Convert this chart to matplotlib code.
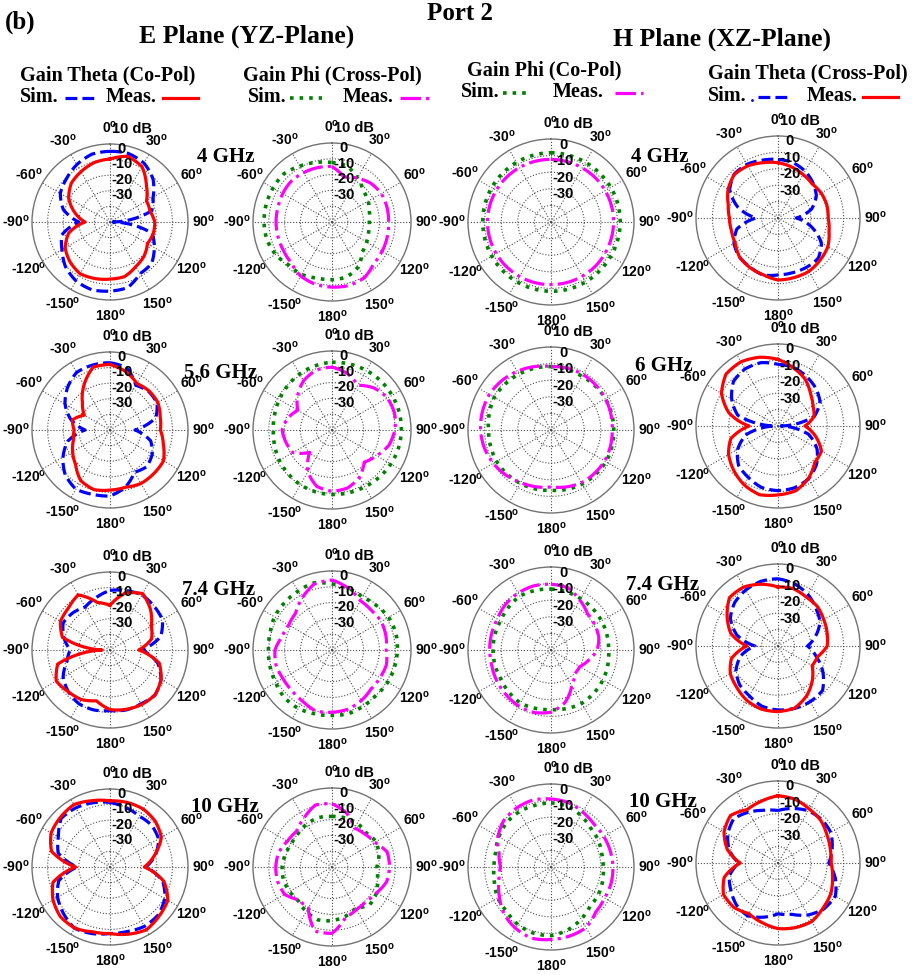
import numpy as np
import matplotlib

matplotlib.use("AGG")
from matplotlib import pyplot
from matplotlib.lines import Line2D

# pattern angles (deg, clockwise from boresight), values in dB
angles = np.arange(0, 360, 15)

# E plane (YZ) - gain theta co-pol / gain phi cross-pol
e_co_sim_4 = [5.3, 5.5, 3.6, -1.0, -8.1, -12.3, -38, -12, -7.2, -2.3, -1.7, 3.6, 4.3, 5.0, 3.6, 0.4, -4.5, -8, -20, -9, -3.2, -0.6, 2.5, 5.0]
e_co_meas_4 = [0.4, 3.6, 1.0, -7, -13, -13.4, -11.3, -11.3, -12.3, -9.1, -7, -3.8, -3.4, -2.5, -1.7, -3.8, -6.8, -12.6, -24, -16.6, -9.4, -4.9, -2.8, -0.6]
e_x_sim_4 = [-2.4, -3.3, -7.8, -12, -13.6, -15.5, -16.4, -16, -14.7, -13, -7, -4, -3.5, -3.3, -1.6, -1.4, 1.2, 2.7, 3, 3.1, 3.1, 3.1, 0.8, -1]
e_x_meas_4 = [-4.9, -10.6, -8, -5.3, -4, -4, -4.2, -3.8, -3.3, -2.7, 0.8, 1.6, 1.2, 0.8, -0.5, -3.5, -4.4, -4.6, -4.6, -4.6, -4, -3.5, -4, -4.4]

e_co_sim_56 = [3.1, 1.3, -6.9, -5, -5.2, -9.6, -24, -13, -8.75, -6.7, -8.75, -2, 2.3, 2.7, 3.8, 0.6, -5.2, -11.9, -24, -14, -6.7, -1.5, 2.7, 3.1]
e_co_meas_56 = [2, -1.2, -5.6, -4.6, -4.6, -6.7, -7.7, -4.6, -0.4, -0.4, -0.4, -2, -1.5, -0.4, -2.5, -8.8, -12.3, -15.8, -17, -15, -21, -15, -6.7, 1.7]
e_x_sim_56 = [2.9, 3.2, 3.5, 3.8, 3.9, 4.0, 3.9, 3.6, 3.0, 2.3, 1.5, 1.1, 0.8, 0.5, 0.0, -0.8, -1.5, -2.4, -2.9, -2.4, -1.5, -0.3, 1.0, 2.0]
e_x_meas_56 = [-0.2, -2.9, -7.3, -2.4, 0.6, 1, -0.2, -2.7, -7.5, -11.2, -5.3, -2, -1.2, -3, -9.4, -20, -11.4, -9.8, -8.4, -11, -15, -9.2, -4, -0.8]

e_co_sim_74 = [-1.8, -0.6, 0.8, -0.2, -1.2, -6.3, -19.6, -8.4, -2.2, 0.8, -0.2, -0.2, -1.2, -0.2, -0.2, -2.2, -5.3, -11.4, -14.5, -9.4, -5.3, -6.3, -8.2, -5.3]
e_co_meas_74 = [-11.4, -2.2, 1.8, -3.3, -9.4, -12.4, -21.6, -7.3, -2.2, 0.8, 0.4, -0.6, -1.8, -6.3, -3.3, -2.2, -0.2, -5.3, -35, -8.4, -3.3, -2.2, 0.8, -8.4]
e_x_sim_74 = [1.8, 0.4, -1.4, -0.2, 1.4, 1.8, 1.4, 1.0, 0.8, 0.0, 0.6, 1.6, 1.4, 1.8, 2.7, 2.6, 1.2, 0.6, 0.2, 0.6, 2.0, 2.4, 3.0, 4.0]
e_x_meas_74 = [4.3, 0.4, -4, -4.7, -4, -4.7, -5.7, -4.3, -4.9, -5.1, -3, -1.2, -0.6, 0, -2.7, -3.9, -4.1, -3.3, -3.9, -7.3, -8.4, -7.3, -2.2, 3.3]

e_co_sim_10 = [1.4, -0.6, -2.4, -2.2, -4, -9.8, -17, -5, 0.6, 3.6, 4, 2.8, 2.6, 4.2, 5.4, 2.2, -1.2, -6, -19, -5.6, -1.8, 4.2, 3.8, 2.6]
e_co_meas_10 = [2.4, 2.8, 2.8, 1.2, -2, -10.4, -18, -4.2, 2.8, 4.5, 6.5, 4.6, 2.6, 3, 5.2, 5, 2.2, -2.2, -18, -1.2, 3.6, 5, 6.2, 4]
e_x_sim_10 = [-8, -7.8, -8, -9.4, -7.8, -9.2, -11.6, -10.2, -7.4, -6.2, -10, -7.6, -6, -5.4, -7.4, -9.8, -9, -8.2, -8.4, -9.4, -10.4, -9.8, -8.4, -7.6]
e_x_meas_10 = [0, -4.6, -11.6, -10.6, -8.8, -3.8, -3.6, -4.2, -7.4, -9.4, -9, -7, 2, 2, -10, -10.6, -5.4, -4.4, -4.4, -5, -7.4, -8.2, -4.4, 0.6]

# H plane (XZ) - gain phi co-pol / gain theta cross-pol
h_co_sim_4 = [1.7, 1.6, 1.5, 1.5, 1.6, 1.7, 1.7, 1.6, 1.5, 1.5, 1.7, 1.8, 1.7, 1.6, 1.5, 1.3, 1.2, 1.1, 1.1, 1.2, 1.3, 1.4, 1.5, 1.6]
h_co_meas_4 = [-2.3, -2.4, -2.4, -2.3, -2.3, -2.3, -2.3, -2.4, -2.4, -2.3, -2.3, -2.3, -2.3, -2.2, -2.1, -2.0, -1.9, -1.8, -1.7, -1.8, -1.9, -2.0, -2.1, -2.2]
h_x_sim_4 = [-4.3, -5, -7, -9.8, -13, -18.8, -28.8, -18.8, -9.4, -5.3, -5.3, -5.5, -5.3, -4, -5.7, -6.5, -9, -14, -26.7, -14.7, -5.9, -2.2, -2.2, -3.5]
h_x_meas_4 = [-6.3, -7.8, -9.4, -10.6, -9.6, -9.2, -9.4, -7.8, -4.9, -3.7, -2.4, -2.4, -2.2, -4.3, -5.3, -6.7, -9.8, -10.6, -10.4, -8.6, -4.9, -2.4, -3.3, -5.1]

h_co_sim_6 = [-1.8, -2.2, -2.7, -2.4, -2.2, -2.2, -2.2, -2.0, -1.8, -2.1, -2.4, -3.0, -3.7, -3.3, -2.9, -2.5, -2.2, -2.3, -2.4, -1.5, -0.6, -0.9, -1.2, -1.5]
h_co_meas_6 = [-1.8, -1.5, -1.4, -1.8, -2.2, -2.7, -3.1, -2.9, -2.7, -3.0, -3.3, -4.5, -5.7, -4.6, -3.5, -1.6, 0.2, 1.6, 2.5, 2.8, 2.9, 2.0, 0.8, -0.5]
h_x_sim_6 = [-2.4, -3, -5.2, -7.4, -10.4, -17, -38, -20.8, -12.6, -6.8, -2.8, -1, -0.6, -1.2, -3.8, -6, -11.6, -20, -38, -14.6, -7.4, -1.6, 0.2, 0]
h_x_meas_6 = [0.6, -3.4, -7, -12, -15.4, -17.2, -23.6, -16.4, -9.4, -8.4, -3, 1, 2, 3.4, 1.4, -1.8, -5.2, -10.2, -22.4, -9, -0.2, 4.8, 5.2, 3.4]

h_co_sim_74 = [-3.3, -3.8, -4.3, -4.6, -4.9, -5.1, -5.3, -4.6, -3.9, -3.4, -2.9, -3.5, -4.1, -3.6, -3.1, -4.1, -5.1, -5.1, -5.1, -5.0, -4.9, -3.7, -2.5, -2.9]
h_co_meas_74 = [-0.4, -1.2, -5.3, -9, -9.6, -10.2, -12.2, -16.5, -20, -19.8, -15, -7.3, -2.5, -1, -1, -1.8, -2.4, -3.1, -3.1, -2.9, -2.7, -1.2, -0.4, 0]
h_x_sim_74 = [1, -0.8, -3.6, -7.4, -10.4, -16.2, -22, -16, -8.4, -1.6, -0.8, -0.6, -1, -2, -5, -6.8, -10.4, -16.4, -26, -14, -6.4, -2.6, -0.6, 0.8]
h_x_meas_74 = [-4, -3.8, -5.6, -6, -7.8, -9, -10, -15, -16, -10.4, -5, -0.8, 0, -0.2, -1.8, -4.4, -6.4, -10.6, -21, -10.2, -4.2, 1.8, 1.6, -1]

h_co_sim_10 = [-1.4, -2, -4.1, -6.5, -7.3, -8.4, -8.6, -7.8, -7, -6.7, -3.7, -0.8, 1.4, 1.2, 0, -2.2, -2.9, -4.7, -5.7, -5.5, -3.7, -2.2, -1.6, -1.6]
h_co_meas_10 = [1, 0.2, -1.8, -3.5, -3.3, -3, -2.7, -2.5, -2.7, -1.8, 2.2, 3.1, 3.7, 4.5, 2.7, 0, -4.1, -7.5, -9.6, -7.6, -3.1, 0, 1.2, 1.8]
h_x_sim_10 = [-8, -5.6, -3.2, -2.4, -2.8, -5.8, -9, -3.8, 0.4, -0.4, -3.4, -7.6, -9, -5.8, -2.8, -4, -6.8, -9.2, -16, -9.2, -4.6, -1.8, -4.2, -6.8]
h_x_meas_10 = [1, 0.2, -2, -3.2, -5.6, -7, -7.6, -5.6, -2.8, -1.2, 1.2, 0.8, 0, -2.4, -4.4, -1.8, -1.6, -6, -17, -8, -2, 1, -2.4, -1]

e_freqs = ["4 GHz", "5.6 GHz", "7.4 GHz", "10 GHz"]
h_freqs = ["4 GHz", "6 GHz", "7.4 GHz", "10 GHz"]
theta_labels = ["0", "30", "60", "90", "120", "150", "180", "-150", "-120", "-90", "-60", "-30"]
r_labels = ["-30", "-20", "-10", "0"]

BLUE, RED, GREEN, PINK = "#0000ff", "#ff0000", "#008000", "#ff00ff"
styles = {
    "co_sim": dict(color=BLUE, linestyle="--", linewidth=2.3),
    "co_meas": dict(color=RED, linestyle="-", linewidth=2.3),
    "x_sim": dict(color=GREEN, linestyle=":", linewidth=2.6),
    "x_meas": dict(color=PINK, linestyle="-.", linewidth=2.3),
}

# columns: E co, E cross, H co, H cross
grid = [
    [(e_co_sim_4, e_co_meas_4, "co"), (e_x_sim_4, e_x_meas_4, "x"), (h_co_sim_4, h_co_meas_4, "x"), (h_x_sim_4, h_x_meas_4, "co")],
    [(e_co_sim_56, e_co_meas_56, "co"), (e_x_sim_56, e_x_meas_56, "x"), (h_co_sim_6, h_co_meas_6, "x"), (h_x_sim_6, h_x_meas_6, "co")],
    [(e_co_sim_74, e_co_meas_74, "co"), (e_x_sim_74, e_x_meas_74, "x"), (h_co_sim_74, h_co_meas_74, "x"), (h_x_sim_74, h_x_meas_74, "co")],
    [(e_co_sim_10, e_co_meas_10, "co"), (e_x_sim_10, e_x_meas_10, "x"), (h_co_sim_10, h_co_meas_10, "x"), (h_x_sim_10, h_x_meas_10, "co")],
]

W, H = 917, 975
col_x = [110, 332, 551, 778]
col_dy = [0, 0, 0, -4]
col_r = [78, 79, 83, 82]
row_y = [222, 430, 650, 867]

pyplot.rcParams["mathtext.fontset"] = "custom"
pyplot.rcParams["mathtext.rm"] = "Liberation Sans:bold"
SANS = "Liberation Sans"
SERIF = "Liberation Serif"


def px(x, y):
    return x / W, 1 - y / H


def polar_panel(fig, cx, cy, R, sim, meas, kind):
    ax = fig.add_axes([(cx - R) / W, 1 - (cy + R) / H, 2 * R / W, 2 * R / H],
                      projection="polar")
    ax.set_theta_zero_location("N")
    ax.set_theta_direction(-1)
    ax.set_ylim(-40, 10)
    ax.set_rgrids([-30, -20, -10, 0], labels=[""] * 4)
    ax.set_thetagrids(np.arange(0, 360, 30),
                      labels=[t + r"$^{\mathrm{o}}$" for t in theta_labels],
                      fontsize=10, fontweight="bold", family=SANS)
    ax.tick_params(axis="x", pad=1)
    ax.grid(True, color="0.3", linestyle=":", linewidth=0.8)
    ax.spines["polar"].set_color("0.45")
    ax.spines["polar"].set_linewidth(1.0)

    th = np.deg2rad(np.append(angles, 360))
    for vals, key in ((sim, kind + "_sim"), (meas, kind + "_meas")):
        line, = ax.plot(th, np.append(vals, vals[0]), **styles[key])
        # follow the polar grid between samples instead of straight chords
        line.get_path()._interpolation_steps = 12

    # radial labels sit just above each ring, right of the 0 deg line
    for v, lab in zip([-30, -20, -10, 0], r_labels):
        y = 0.5 + 0.5 * (v + 40) / 50 + 11 / (2 * R)
        ax.text(0.5 + 12 / (2 * R), y, lab, transform=ax.transAxes,
                ha="center", va="center", fontsize=10.5, fontweight="bold",
                family=SANS)
    ax.text(0.5 + 22 / (2 * R), 1 + 15 / (2 * R), "10 dB", transform=ax.transAxes,
            ha="center", va="center", fontsize=10.5, fontweight="bold", family=SANS)
    return ax


fig = pyplot.figure(figsize=(W / 100, H / 100), dpi=100)

for i, row in enumerate(grid):
    for j, (sim, meas, kind) in enumerate(row):
        polar_panel(fig, col_x[j], row_y[i] + col_dy[j], col_r[j], sim, meas, kind)

# frequency tags
e_tag_pos = [(226, 157), (221, 373), (219, 590), (225, 807)]
h_tag_pos = [(660, 157), (664, 366), (663, 585), (663, 802)]
for (x, y), s in zip(e_tag_pos, e_freqs):
    fig.text(*px(x, y), s, ha="center", va="center", fontsize=15,
             fontweight="bold", family=SERIF)
for (x, y), s in zip(h_tag_pos, h_freqs):
    fig.text(*px(x, y), s, ha="center", va="center", fontsize=15,
             fontweight="bold", family=SERIF)

# headers
fig.text(*px(5, 22), "(b)", ha="left", va="center", fontsize=18, fontweight="bold", family=SERIF)
fig.text(*px(460, 13), "Port 2", ha="center", va="center", fontsize=18, fontweight="bold", family=SERIF)
fig.text(*px(247, 36), "E Plane (YZ-Plane)", ha="center", va="center", fontsize=18.5, fontweight="bold", family=SERIF)
fig.text(*px(722, 39), "H Plane (XZ-Plane)", ha="center", va="center", fontsize=18.5, fontweight="bold", family=SERIF)

# legend blocks: title, then "Sim." sample "Meas." sample
legend_blocks = [
    ("Gain Theta (Co-Pol)", 20, 75, 20, 97, (65, 97), 106, (163, 198), "co"),
    ("Gain Phi (Cross-Pol)", 243, 75, 248, 97, (290, 322), 343, (400, 432), "x"),
    ("Gain Phi (Co-Pol)", 467, 70, 461, 92, (503, 526), 553, (615, 643), "x"),
    ("Gain Theta (Cross-Pol)", 708, 73, 708, 96, (758, 790), 807, (863, 898), "co"),
]
for title, tx, ty, sx, sy, sim_seg, mx, meas_seg, kind in legend_blocks:
    fig.text(*px(tx, ty), title, ha="left", va="center", fontsize=14.5,
             fontweight="bold", family=SERIF)
    fig.text(*px(sx, sy), "Sim.", ha="left", va="center", fontsize=14.5,
             fontweight="bold", family=SERIF)
    fig.text(*px(mx, sy), "Meas.", ha="left", va="center", fontsize=14.5,
             fontweight="bold", family=SERIF)
    for seg, key in ((sim_seg, kind + "_sim"), (meas_seg, kind + "_meas")):
        fig.add_artist(Line2D([seg[0] / W, seg[1] / W], [1 - (sy + 1) / H] * 2,
                              transform=fig.transFigure, **styles[key]))

# small stray mark after the last "Sim." label
fig.add_artist(Line2D([752 / W], [1 - 100 / H], transform=fig.transFigure,
                      marker=".", markersize=2, color=BLUE, linestyle="none"))

pyplot.savefig("out.png", dpi=100)
pyplot.close()
